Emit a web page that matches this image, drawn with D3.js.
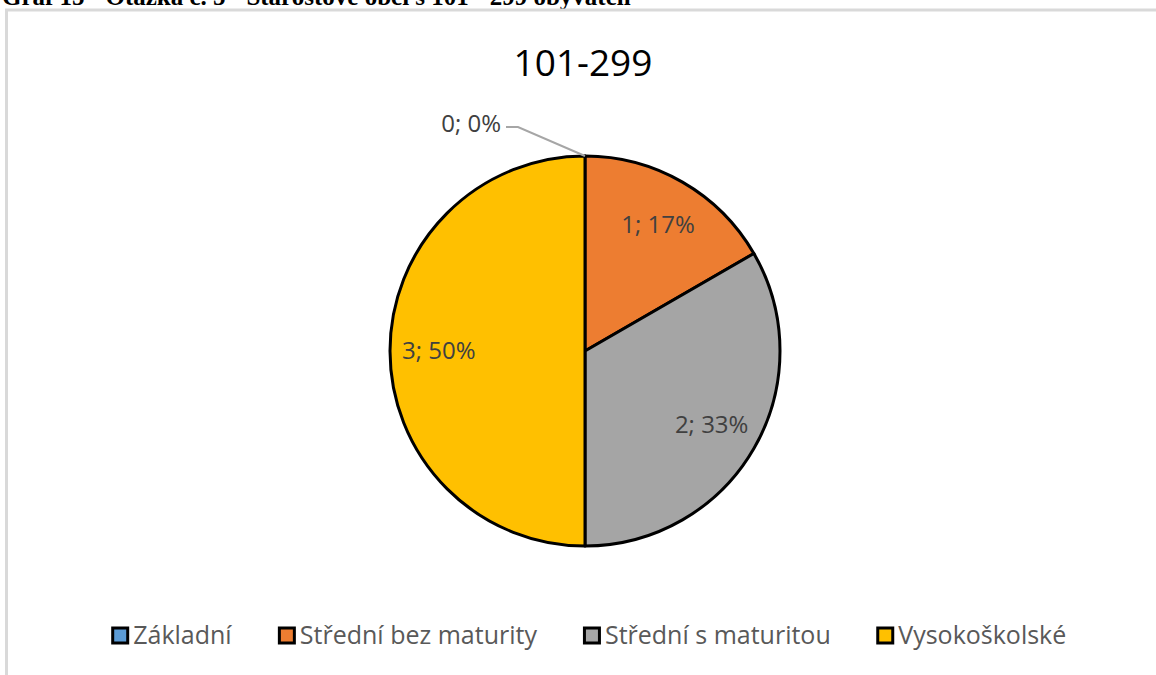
<!DOCTYPE html>
<html>
<head>
<meta charset="utf-8">
<script src="https://cdn.jsdelivr.net/npm/d3@7"></script>
<style>
  body { margin: 0; background: #fff; }
  svg { display: block; }
  text { font-family: "Open Sans", "Noto Sans", sans-serif; }
</style>
</head>
<body>
<svg width="1156" height="675"></svg>
<script>
const categories = ['Základní', 'Střední bez maturity', 'Střední s maturitou', 'Vysokoškolské']
const values = [0, 1, 2, 3]
const colors = ['#5B9BD5', '#ED7D31', '#A5A5A5', '#FFC000']
const chartTitle = '101-299'
const caption = 'Graf 15 - Otázka č. 5 - Starostové obcí s 101 - 299 obyvateli'

const svg = d3.select('svg')
const w = +svg.attr('width')
const h = +svg.attr('height')

const data = categories.map((c, i) => ({name: c, value: values[i], color: colors[i]}))
const total = d3.sum(values)

// caption above the chart frame, cut off at the top like in the scan
svg.append('text')
  .text(caption)
  .attr('x', 2)
  .attr('y', 5)
  .attr('font-weight', 'bold')
  .attr('font-size', 25)
  .attr('fill', '#000')
  .style('font-family', '"Liberation Serif", serif')

// chart frame
svg.append('rect')
  .attr('x', 6.5).attr('y', 10)
  .attr('width', w + 20).attr('height', h + 20)
  .attr('fill', 'none')
  .attr('stroke', '#d9d9d9')
  .attr('stroke-width', 3)

svg.append('text')
  .text(chartTitle)
  .attr('x', 583)
  .attr('y', 76)
  .attr('text-anchor', 'middle')
  .attr('font-size', 37)
  .attr('fill', '#000')

const cx = 585, cy = 351, r = 195

const pie = d3.pie().value(d => d.value).sort(null)
const arc = d3.arc().innerRadius(0).outerRadius(r)
const labelArc = d3.arc().innerRadius(r * 0.75).outerRadius(r * 0.75)

const g = svg.append('g').attr('transform', `translate(${cx}, ${cy})`)
const arcs = pie(data)

g.selectAll('path').data(arcs)
  .enter().append('path')
    .attr('d', arc)
    .attr('fill', d => d.data.color)
    .attr('stroke', '#000')
    .attr('stroke-width', 3)
    .attr('stroke-linejoin', 'round')

const pct = d => d3.format('.0%')(total ? d.data.value / total : 0)
const labelText = d => `${d.data.value}; ${pct(d)}`

// labels inside non-empty slices
g.selectAll('text.lbl').data(arcs.filter(d => d.data.value > 0))
  .enter().append('text')
    .attr('class', 'lbl')
    .attr('transform', d => `translate(${labelArc.centroid(d)})`)
    .attr('text-anchor', 'middle')
    .attr('dy', '0.35em')
    .attr('font-size', 24)
    .attr('fill', '#404040')
    .text(labelText)

// zero slice: label outside with leader line
arcs.filter(d => d.data.value === 0).forEach(d => {
  const a = d.startAngle
  const p0 = [Math.sin(a) * r, -Math.cos(a) * r]
  const p1 = [p0[0] - 67, p0[1] - 29]
  const p2 = [p1[0] - 12, p1[1]]
  g.append('polyline')
    .attr('points', [p0, p1, p2].map(p => p.join(',')).join(' '))
    .attr('fill', 'none')
    .attr('stroke', '#a6a6a6')
    .attr('stroke-width', 2)
  g.append('text')
    .attr('x', p2[0] - 5)
    .attr('y', p2[1])
    .attr('dy', '0.2em')
    .attr('text-anchor', 'end')
    .attr('font-size', 24)
    .attr('fill', '#404040')
    .text(labelText(d))
})

// legend
const legend = svg.append('g')
const items = legend.selectAll('g').data(data).enter().append('g')
items.append('rect')
  .attr('x', 1.5).attr('y', -16)
  .attr('width', 15).attr('height', 15)
  .attr('fill', d => d.color)
  .attr('stroke', '#000')
  .attr('stroke-width', 3)
items.append('text')
  .attr('x', 22)
  .attr('y', 0)
  .attr('font-size', 25)
  .attr('fill', '#595959')
  .text(d => d.name)

let xPos = 0
const gap = 47
items.each(function () {
  const wItem = this.getBBox().width
  d3.select(this).attr('transform', `translate(${xPos}, 0)`)
  xPos += wItem + gap
})
const legendW = xPos - gap
legend.attr('transform', `translate(${588 - legendW / 2}, 644)`)
</script>
</body>
</html>
